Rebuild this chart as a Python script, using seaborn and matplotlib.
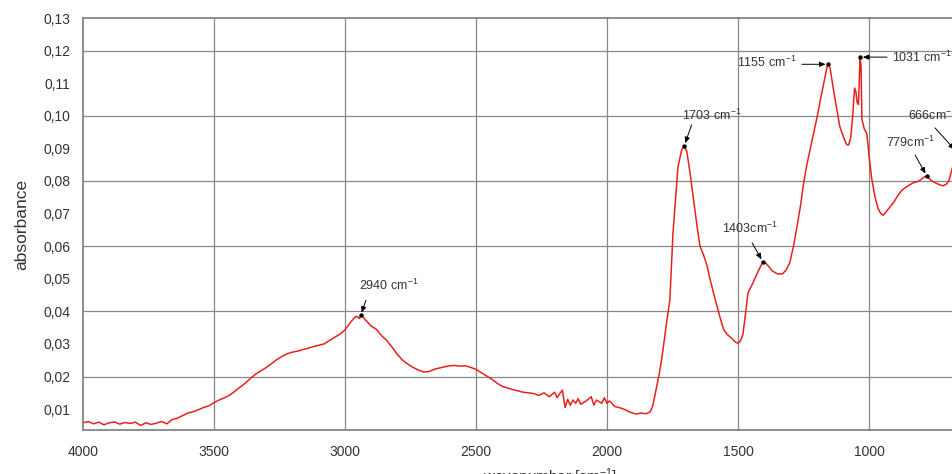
import matplotlib
matplotlib.use("Agg")
import matplotlib.pyplot as plt
import seaborn as sns
import pandas as pd
from matplotlib.ticker import FuncFormatter, MultipleLocator

wavenumber = [
    4000, 3980, 3960, 3940, 3920, 3900, 3880, 3860, 3840, 3820, 3800, 3780, 3760, 3740, 3720,
    3700, 3680, 3660, 3640, 3620, 3600, 3580, 3560, 3540, 3520, 3500, 3480, 3460, 3440, 3420,
    3400, 3380, 3360, 3340, 3320, 3300, 3280, 3260, 3240, 3220, 3200, 3180, 3160, 3140, 3120,
    3100, 3080, 3060, 3040, 3020, 3000, 2980, 2965, 2955, 2945, 2940, 2930, 2920, 2900, 2880,
    2860, 2840, 2820, 2800, 2780, 2760, 2740, 2720, 2700, 2680, 2660, 2640, 2620, 2600, 2580,
    2560, 2540, 2520, 2500, 2480, 2460, 2440, 2420, 2400, 2380, 2360, 2340, 2320, 2300, 2280,
    2260, 2240, 2220, 2200, 2190, 2180, 2170, 2160, 2150, 2140, 2130, 2120, 2110, 2100, 2080,
    2060, 2050, 2040, 2020, 2010, 2000, 1990, 1970, 1950, 1930, 1910, 1890, 1870, 1850, 1835,
    1825, 1815, 1800, 1790, 1775, 1760, 1748, 1729, 1715, 1705, 1695, 1683, 1670, 1656, 1645,
    1630, 1618, 1607, 1588, 1569, 1555, 1542, 1525, 1510, 1500, 1490, 1481, 1470, 1462, 1443,
    1424, 1405, 1390, 1370, 1350, 1330, 1315, 1302, 1288, 1275, 1262, 1250, 1237, 1225, 1210,
    1198, 1185, 1170, 1160, 1155, 1148, 1137, 1125, 1111, 1095, 1085, 1078, 1070, 1062, 1055,
    1050, 1045, 1040, 1034, 1030, 1027, 1018, 1008, 1000, 990, 977, 965, 955, 945, 935,
    920, 905, 890, 874, 860, 845, 832, 815, 800, 790, 779, 770, 760, 748, 735,
    718, 705, 695, 687, 675, 666, 655,
]
absorbance = [
    0.0058, 0.0062, 0.0055, 0.0060, 0.0052, 0.0058, 0.0061, 0.0054, 0.0059, 0.0056, 0.0060, 0.0050, 0.0058, 0.0053, 0.0057,
    0.0062, 0.0055, 0.0068, 0.0072, 0.0080, 0.0088, 0.0092, 0.0098, 0.0105, 0.0110, 0.0120, 0.0128, 0.0135, 0.0143, 0.0155,
    0.0168, 0.0180, 0.0195, 0.0208, 0.0218, 0.0228, 0.0240, 0.0252, 0.0262, 0.0270, 0.0275, 0.0278, 0.0283, 0.0287, 0.0292,
    0.0296, 0.0300, 0.0310, 0.0320, 0.0330, 0.0343, 0.0365, 0.0380, 0.0385, 0.0378, 0.0388, 0.0382, 0.0372, 0.0355, 0.0345,
    0.0325, 0.0310, 0.0290, 0.0268, 0.0250, 0.0238, 0.0228, 0.0220, 0.0214, 0.0215, 0.0222, 0.0226, 0.0230, 0.0233, 0.0234,
    0.0232, 0.0233, 0.0228, 0.0222, 0.0212, 0.0202, 0.0192, 0.0180, 0.0170, 0.0165, 0.0160, 0.0156, 0.0152, 0.0150, 0.0148,
    0.0142, 0.0150, 0.0138, 0.0152, 0.0135, 0.0148, 0.0158, 0.0105, 0.0130, 0.0112, 0.0128, 0.0118, 0.0132, 0.0115, 0.0125,
    0.0138, 0.0112, 0.0128, 0.0118, 0.0135, 0.0118, 0.0125, 0.0108, 0.0104, 0.0098, 0.0090, 0.0085, 0.0088, 0.0086, 0.0092,
    0.0110, 0.0150, 0.0210, 0.0260, 0.0350, 0.0435, 0.0640, 0.0843, 0.0895, 0.0908, 0.0890, 0.0825, 0.0745, 0.0660, 0.0600,
    0.0570, 0.0540, 0.0500, 0.0440, 0.0383, 0.0345, 0.0330, 0.0318, 0.0306, 0.0302, 0.0310, 0.0330, 0.0400, 0.0456, 0.0487,
    0.0521, 0.0552, 0.0545, 0.0525, 0.0515, 0.0515, 0.0528, 0.0550, 0.0600, 0.0659, 0.0720, 0.0790, 0.0850, 0.0895, 0.0950,
    0.0996, 0.1050, 0.1110, 0.1150, 0.1158, 0.1145, 0.1088, 0.1030, 0.0966, 0.0930, 0.0912, 0.0910, 0.0930, 0.1000, 0.1085,
    0.1075, 0.1040, 0.1035, 0.1180, 0.1150, 0.0990, 0.0960, 0.0945, 0.0880, 0.0810, 0.0751, 0.0715, 0.0700, 0.0695, 0.0705,
    0.0720, 0.0735, 0.0755, 0.0772, 0.0780, 0.0788, 0.0794, 0.0798, 0.0805, 0.0812, 0.0815, 0.0808, 0.0800, 0.0795, 0.0790,
    0.0785, 0.0790, 0.0800, 0.0824, 0.0860, 0.0890, 0.0870,
]

peak_wn = [2940, 1705, 1405, 1155, 1034, 779, 666]
peak_abs = [0.0388, 0.0908, 0.0552, 0.1158, 0.1180, 0.0815, 0.0890]
peak_labels = ["2940 cm$^{-1}$", "1703 cm$^{-1}$", "1403cm$^{-1}$", "1155 cm$^{-1}$",
               "1031 cm$^{-1}$", "779cm$^{-1}$", "666cm$^{-1}$"]

sns.set_style("white")
plt.rcParams["font.family"] = ["Liberation Sans", "DejaVu Sans"]
plt.rcParams["mathtext.default"] = "regular"

fig = plt.figure(figsize=(9.52, 4.74), dpi=100)
ax = fig.add_axes([83 / 952, 1 - 430 / 474, 1 - 83 / 952, 412 / 474])

df = pd.DataFrame({"wavenumber": wavenumber, "absorbance": absorbance})
sns.lineplot(data=df, x="wavenumber", y="absorbance", ax=ax, color="#e8211f",
             linewidth=1.1, sort=False, estimator=None)
pk = pd.DataFrame({"wn": peak_wn, "ab": peak_abs})
sns.scatterplot(data=pk, x="wn", y="ab", ax=ax, color="black", s=10, zorder=5,
                edgecolor="black", linewidth=0)

ax.set_xlim(4000, 683)
ax.set_ylim(0.0036, 0.13)

ax.xaxis.set_major_locator(MultipleLocator(500))
ax.yaxis.set_major_locator(MultipleLocator(0.01))
ax.yaxis.set_major_formatter(FuncFormatter(lambda v, p: f"{v:.2f}".replace(".", ",")))
ax.xaxis.set_major_formatter(FuncFormatter(lambda v, p: f"{int(round(v))}"))

gc = "#888888"
for t in ax.get_xticks():
    if 683 < t < 4000:
        ax.axvline(t, color=gc, lw=0.9, zorder=0)
for v in [0.02, 0.04, 0.06, 0.08, 0.10, 0.12]:
    ax.axhline(v, color=gc, lw=0.9, zorder=0)

for s in ["left", "bottom", "top"]:
    ax.spines[s].set_color("#7a7a7a")
    ax.spines[s].set_linewidth(1.2)
ax.spines["right"].set_visible(False)

ax.tick_params(axis="both", direction="out", length=5, width=1, color="#7a7a7a",
               labelsize=10, labelcolor="#333333")
ax.tick_params(axis="y", pad=4)
ax.tick_params(axis="x", pad=6)
ax.set_xlabel("")
ax.set_ylabel("absorbance", fontsize=12.5, color="#333333", labelpad=10)

# annotations: (text x, text y, ha, arrow start x, arrow start y)
ann = [
    (2832, 0.0481, "center", 2920, 0.0434),
    (1599, 0.1002, "center", 1677, 0.0972),
    (1454, 0.0656, "center", 1446, 0.0610),
    (1275, 0.1165, "right", 1256, 0.1158),
    (912, 0.1180, "left", 931, 0.1180),
    (840, 0.0917, "center", 824, 0.0880),
    (851, 0.1002, "left", 748, 0.0963),
]
for (tx, ty, ha, ax0, ay0), lab, px, py in zip(ann, peak_labels, peak_wn, peak_abs):
    ax.text(tx, ty, lab, ha=ha, va="center", fontsize=9, color="#333333", clip_on=False)
    ax.annotate("", xy=(px, py), xytext=(ax0, ay0), annotation_clip=False,
                arrowprops=dict(arrowstyle="-|>,head_length=0.35,head_width=0.15",
                                color="black", lw=0.7, shrinkA=0, shrinkB=2))

fig.text(550 / 952, 1 - 466 / 474, "wavenumber [cm$^{-1}$]", ha="center", va="top",
         fontsize=11, color="#333333")

fig.savefig("out.png", dpi=100)
